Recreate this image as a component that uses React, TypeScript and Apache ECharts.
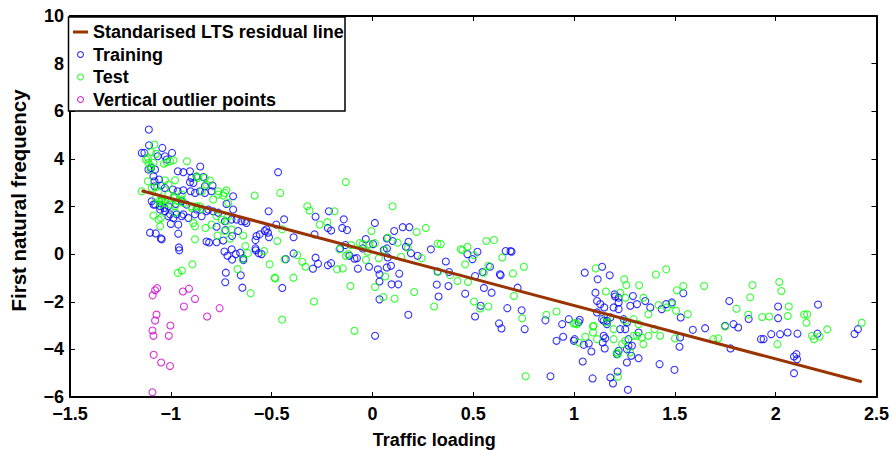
import React, { useEffect, useRef } from "react";
import * as echarts from "echarts";

const FONT = "'Liberation Sans', Arial, Helvetica, sans-serif";

const seriesNames = ["Standarised LTS residual line", "Training", "Test", "Vertical outlier points"];
const xAxisTitle = "Traffic loading";
const yAxisTitle = "First natural frequency";

const ltsLine: number[][] = [
  [-1.145, 2.66],
  [2.427, -5.36],
];

const outlierPoints: number[][] = [
  [-1.068, -1.43], [-1.078, -1.52], [-1.09, -1.73], [-0.94, -1.57], [-0.91, -1.45], [-0.88, -1.88],
  [-0.935, -2.2], [-0.758, -2.27], [-0.82, -2.62], [-1.071, -2.54], [-1.078, -2.79], [-1.002, -3.0],
  [-1.091, -3.21], [-1.086, -3.43], [-1.01, -3.43], [-1.085, -4.23], [-1.048, -4.55], [-1.004, -4.7],
  [-1.091, -5.8],
];

const trainingPoints: number[][] = [
  [-0.958, 0.16], [-0.81, 0.49], [-0.734, 0.11], [-0.719, -0.07], [-0.698, 0.2], [-0.678, 0], [-0.656, 0.06],
  [-0.696, -0.23], [-0.641, -0.18], [-0.64, -0.25], [-0.727, -0.78], [-0.73, -1.18], [-0.653, -0.89],
  [-0.645, -1.41], [-0.579, 0.16], [-0.564, 0.04], [-1.045, 0.62], [-0.58, 0.59],
  [-1.109, 5.23], [-1.108, 4.57], [-1.042, 4.46], [-1.144, 4.25], [-1.131, 4.25], [-0.994, 4.25], [-1.02, 3.97],
  [-0.854, 3.68], [-1.098, 3.62], [-1.078, 3.55], [-0.965, 3.48], [-0.938, 3.44], [-0.905, 3.48], [-0.872, 3.26],
  [-0.839, 3.24], [-1.081, 3.06], [-1.058, 3.13], [-0.905, 3.02], [-0.831, 2.85], [-0.793, 2.88], [-1.049, 2.88],
  [-1.029, 2.78], [-0.99, 2.71], [-0.966, 2.64], [-0.938, 2.68], [-0.856, 2.64], [-0.831, 2.57], [-0.798, 2.64],
  [-1.086, 2.08], [-1.053, 2.01], [-1.032, 1.94], [-1.012, 2.01], [-0.976, 2.11], [-0.946, 2.22], [-0.922, 2.08],
  [-0.814, 1.87], [-0.79, 1.8], [-0.765, 1.74], [-0.674, 1.45], [-0.65, 1.38], [-0.625, 1.31], [-1.012, 1.59],
  [-0.987, 1.52], [-0.946, 1.59], [-1.0, 1.27], [-0.963, 1.24], [-0.773, 1.15], [-0.729, 1.01], [-1.103, 0.9],
  [-1.075, 0.87], [-1.049, 0.66], [-0.963, 0.86], [-0.515, 1.8], [-0.575, 0.76], [-0.559, 0.83], [-0.534, 0.97],
  [-0.468, 3.44], [-0.477, 1.24], [-0.96, 0.28], [-0.58, 0.24],
  [-1.065, 4.11], [-1.029, 4.11], [-1.111, 3.55], [-1.086, 3.27], [-1.081, 2.85], [-0.897, 3.2], [-0.888, 2.99],
  [-0.902, 2.64], [-0.88, 2.57], [-1.095, 2.22], [-1.078, 2.08], [-1.053, 1.87], [-1.029, 1.8], [-1.004, 1.67],
  [-0.971, 1.67], [-0.938, 1.67], [-0.913, 1.52], [-0.88, 1.67], [-0.847, 1.59], [-0.823, 1.8], [-0.872, 1.87],
  [-0.518, 0.9], [-0.773, 0.5], [-0.74, 0.57], [-0.696, 0.76], [-0.666, 0.97], [-0.633, 1.38], [-0.732, 1.38],
  [-0.699, 1.45], [-0.691, 1.87], [-0.724, 2.11], [-0.691, 2.43], [-0.823, 0.53],
  [-0.438, 1.46], [-0.526, 1.04], [-0.216, 1.8], [-0.282, 1.57], [-0.221, 1.1], [-0.205, 0.99], [-0.142, 1.46],
  [-0.15, 1.1], [-0.126, 1.01], [0.012, 1.31], [0.108, 0.97], [0.15, 1.13], [0.183, 1.13], [-0.391, 0.71],
  [-0.513, 0.71], [-0.287, 0.83], [-0.55, 0], [-0.16, 0.24], [-0.134, 0.38], [-0.033, 0.63], [0.003, 0.42],
  [-0.048, 0.24], [-0.114, -0.07], [-0.089, -0.19], [-0.077, -0.17], [0.072, 0.66], [0.1, 0.55], [0.072, 0.24],
  [0.056, 0.17], [0.076, -0.14], [0.092, -0.49], [0.071, -0.56], [0.179, 0.52], [0.166, 0.31], [0.191, 0.04],
  [0.224, -0.07], [0.29, 0.2], [0.364, -0.31], [0.38, -0.75], [0.323, -0.73], [0.319, -1.28], [0.377, -1.34],
  [0.328, -1.78], [0.178, -2.55], [0.133, -0.82], [0.095, -1.27], [0.128, -1.27], [0.035, -1.9], [0.013, -3.43],
  [-0.072, -0.61], [-0.017, -0.53], [0.027, -0.64], [0.035, -0.85], [0.035, -1.15], [-0.295, -0.61], [-0.27, -0.4],
  [-0.282, -0.15], [-0.391, 0.03], [-0.43, -0.21], [-0.447, -1.42], [-0.221, -0.47], [-0.205, -0.38],
  [0.471, 0], [0.496, -0.21], [0.521, 0.1], [0.661, 0.13], [0.685, 0.13], [0.69, 0.1], [0.583, -0.53],
  [0.546, -0.75], [0.509, -0.92], [0.632, -0.85], [0.636, -0.89], [0.72, -1.41], [0.553, -1.42], [0.591, -1.62],
  [0.46, -1.66], [0.537, -2.17], [0.509, -2.62], [0.669, -2.27], [0.74, -2.36], [0.628, -2.91], [0.64, -3.12],
  [0.755, -3.15], [0.858, -2.78], [0.974, -2.73], [0.941, -2.94], [1.028, -2.76], [1.023, -2.86], [0.946, -3.47],
  [0.913, -3.64], [0.999, -3.64], [1.048, -3.81], [1.073, -3.75], [1.086, -4.09], [1.142, -3.71], [1.155, -3.53],
  [1.152, -3.96], [1.043, -4.51], [0.883, -5.13], [1.053, -0.78], [1.117, -1.06], [1.139, -0.53], [1.177, -0.89],
  [1.106, -1.62], [1.114, -1.97], [1.13, -2.1], [1.15, -2.24], [1.204, -1.78], [1.221, -2.03], [1.196, -2.24],
  [1.147, -2.8], [1.163, -2.94], [1.147, -3.43], [1.254, -3.15], [1.27, -3.85], [1.262, -4.55], [1.221, -4.06],
  [1.212, -4.2],
  [1.542, -1.64], [1.77, -1.97], [1.791, -2.94], [1.814, -3.08], [1.201, -1.69], [1.221, -1.83], [1.292, -1.76],
  [1.279, -2.17], [1.312, -2.1], [1.353, -1.97], [1.378, -2.24], [1.435, -2.31], [1.457, -2.1], [1.485, -2.03],
  [1.529, -2.66], [1.589, -3.18], [1.65, -3.11], [1.749, -3.01], [1.776, -3.96], [1.526, -3.5], [1.523, -3.89],
  [1.424, -4.62], [1.498, -4.86], [1.003, -3.57], [1.092, -5.22], [1.18, -5.18], [1.193, -5.43], [1.216, -4.93],
  [1.267, -5.7], [1.32, -4.37], [1.114, -2.45], [1.139, -2.73], [1.163, -2.8], [1.18, -2.66], [1.221, -2.31],
  [1.246, -2.73], [1.262, -2.87], [1.229, -3.15], [1.27, -3.57], [1.287, -3.85], [1.262, -3.99], [1.284, -4.27],
  [1.32, -3.29],
  [1.866, -2.72], [2.012, -2.2], [2.012, -2.69], [2.21, -2.12], [1.927, -3.57], [1.94, -3.57], [1.978, -3.36],
  [2.022, -3.36], [2.059, -3.29], [2.108, -3.34], [2.207, -3.34], [2.391, -3.35], [2.408, -3.15], [2.091, -4.3],
  [2.103, -4.2], [2.106, -4.41], [2.091, -5.0],
];

const testPoints: number[][] = [
  [-0.893, -0.43], [-0.945, -0.69], [-0.965, -0.79], [-0.63, 0.34], [-0.618, 0.04], [-0.669, -0.63],
  [-0.604, -1.64], [-0.643, -0.22], [-0.88, 0.62],
  [-1.081, 4.6], [-1.098, 4.29], [-1.073, 4.21], [-1.123, 3.97], [-1.111, 3.83], [-1.034, 3.8], [-1.02, 3.86],
  [-1.004, 3.9], [-0.92, 3.9], [-1.1, 3.55], [-0.867, 3.2], [-1.114, 3.06], [-1.029, 3.1], [-0.979, 3.1],
  [-0.806, 3.09], [-1.095, 2.78], [-1.07, 2.82], [-1.012, 2.92], [-1.144, 2.64], [-0.765, 2.64], [-0.724, 2.68],
  [-0.74, 2.46], [-0.946, 2.5], [-0.984, 2.43], [-1.075, 2.36], [-1.058, 2.22], [-1.045, 2.32], [-1.029, 2.15],
  [-0.897, 2.01], [-0.872, 2.01], [-0.847, 1.9], [-0.773, 1.59], [-0.748, 1.45], [-0.715, 1.59], [-0.724, 1.38],
  [-1.086, 1.62], [-1.049, 1.52], [-1.053, 1.17], [-0.888, 1.31], [-0.88, 1.17], [-0.828, 1.1], [-0.798, 1.24],
  [-0.641, 0.78], [-0.584, 2.46], [-0.707, 0.65], [-0.472, 0.55], [-0.457, 2.57],
  [-1.114, 4.04], [-1.098, 3.69], [-1.086, 3.83], [-0.987, 3.94], [-0.872, 3.27], [-0.831, 3.2], [-0.823, 2.92],
  [-0.847, 2.64], [-1.061, 2.64], [-1.045, 2.22], [-1.053, 2.08], [-1.029, 2.29], [-1.012, 2.5], [-1.004, 2.08],
  [-0.987, 2.36], [-0.979, 2.01], [-0.963, 2.22], [-0.946, 2.29], [-1.061, 1.45], [-0.979, 1.74], [-0.938, 2.15],
  [-0.897, 1.94], [-0.856, 2.01],
  [-0.448, 1.04], [-0.51, -0.43], [-0.436, -0.22], [-0.485, -0.99], [-0.768, 0.78], [-0.732, 0.97],
  [-0.699, 1.04], [-0.765, 2.5], [-0.732, 2.57], [-0.79, 2.29], [-0.715, 2.15],
  [-0.132, 3.03], [-0.323, 2.01], [-0.312, 1.83], [-0.188, 1.8], [-0.262, 1.24], [-0.224, 1.34], [0.1, 2.01],
  [-0.005, 0.97], [0.077, 0.69], [0.219, 0.93], [0.265, 1.1], [-0.537, 0.13], [-0.106, 0.38], [-0.064, 0.46],
  [-0.048, 0.42], [-0.015, 0.42], [0.012, 0.46], [-0.164, 0.2], [-0.132, -0.07], [-0.119, 0], [-0.032, -0.24],
  [-0.024, 0.1], [0.125, 0.48], [0.175, 0.27], [0.142, -0.11], [0.032, -0.17], [0.06, 0.17], [0.323, 0.44],
  [0.339, 0.42], [0.244, -0.17], [0.438, 0.2], [0.326, -0.73], [0.385, -0.88], [0.422, -1.13], [0.306, -2.2],
  [0.207, -1.59], [0.063, -0.94], [0.013, -1.38], [0.054, -1.8], [0.11, -1.87], [-0.175, -0.64], [-0.147, -0.6],
  [-0.332, -0.53], [-0.348, -0.32], [-0.373, -0.04], [-0.482, -1.02], [-0.392, -0.99], [-0.29, -1.99],
  [-0.448, -2.75], [-0.089, -3.22], [-0.109, -1.34],
  [0.471, 0.31], [0.447, 0.17], [0.504, -0.05], [0.46, -0.43], [0.565, 0.55], [0.603, 0.59], [0.644, -0.14],
  [0.575, -0.49], [0.553, -0.78], [0.474, -1.17], [0.751, -0.53], [0.697, -0.81], [0.702, -1.76], [0.504, -1.99],
  [0.534, -2.28], [0.575, -2.2], [0.743, -2.69], [0.863, -2.55], [0.913, -2.41], [0.999, -2.91], [1.015, -2.94],
  [1.094, -3.04], [1.056, -3.47], [1.094, -3.29], [1.114, -3.57], [0.76, -5.13], [1.107, -0.6], [1.158, -1.57],
  [1.249, -1.06], [1.259, -1.3], [1.229, -1.62], [1.254, -1.83], [1.163, -2.87], [1.196, -3.15], [1.254, -3.64],
  [1.295, -3.43], [1.212, -4.13], [1.278, -4.13], [1.312, -3.43],
  [1.457, -0.64], [1.406, -0.86], [1.323, -1.31], [1.542, -1.34], [1.51, -1.52], [1.645, -1.34], [1.806, -2.29],
  [1.691, -3.57], [1.715, -3.54], [1.749, -3.04], [1.344, -1.83], [1.369, -2.52], [1.419, -2.14], [1.46, -2.24],
  [1.485, -2.1], [1.564, -2.52], [1.506, -2.38], [1.501, -3.54], [1.427, -3.43], [1.399, -3.15], [1.369, -3.43],
  [1.344, -3.78], [1.007, -2.9], [1.023, -3.71], [1.097, -3.01], [1.218, -5.15], [1.218, -4.2], [1.238, -3.78],
  [1.196, -3.57], [1.163, -2.66], [1.254, -2.8], [1.295, -2.73], [1.336, -3.5], [1.32, -2.94],
  [1.885, -1.3], [2.018, -1.17], [2.028, -1.55], [1.874, -1.81], [1.864, -2.54], [1.933, -2.64], [1.968, -2.62],
  [2.065, -2.2], [2.06, -2.6], [2.141, -2.54], [2.156, -2.53], [2.153, -2.88], [2.256, -3.16], [2.18, -3.43],
  [2.19, -3.57], [2.218, -3.46], [2.427, -2.88], [2.009, -3.78],
];

const xMin = -1.5;
const xMax = 2.5;
const xStep = 0.5;
const yMin = -6;
const yMax = 10;
const yStep = 2;

const lineColor = "#993300";
const trainColor = "#0000ff";
const testColor = "#00ff00";
const outlierColor = "#cc00cc";

const fmt = (v: number) => (v < 0 ? "\u2212" + String(Math.abs(v)) : String(v));

export default function App() {
  const ref = useRef<HTMLDivElement>(null);
  useEffect(() => {
    document.body.style.margin = "0";
    const chart = echarts.init(ref.current!, null, { renderer: "svg" });
    const axisLine = { show: true, onZero: false, lineStyle: { color: "#000", width: 2 } };
    const tick = { show: true, inside: true, length: 5, lineStyle: { color: "#000", width: 1 } };
    const labelStyle = { fontFamily: FONT, fontWeight: "bold" as const, fontSize: 18, color: "#000" };
    const hollow = (color: string) => ({ color: "rgba(0,0,0,0)", borderColor: color, borderWidth: 1.1 });
    const scatter = (name: string, data: number[][], color: string) => ({
      name,
      type: "scatter",
      data,
      symbol: "circle",
      symbolSize: 7,
      itemStyle: hollow(color),
      z: 2,
    });
    chart.setOption({
      animation: false,
      backgroundColor: "#fff",
      grid: { left: 68, right: 15, top: 16, bottom: 56 },
      graphic: [
        {
          type: "rect",
          z: 5,
          shape: { x: 68.5, y: 17, width: 276.5, height: 94 },
          style: { fill: "#fff", stroke: "#000", lineWidth: 1.5 },
        },
      ],
      legend: {
        orient: "vertical",
        left: 68,
        top: 17,
        padding: [5, 2, 2, 5],
        itemGap: 2.5,
        itemWidth: 15,
        itemHeight: 6,
        selectedMode: false,
        z: 10,
        textStyle: { ...labelStyle, lineHeight: 20 },
        data: [
          { name: seriesNames[0], icon: "path://M0,0h15v3h-15z", itemStyle: { color: lineColor, borderWidth: 0 } },
          { name: seriesNames[1], icon: "circle", itemStyle: hollow(trainColor) },
          { name: seriesNames[2], icon: "circle", itemStyle: hollow(testColor) },
          { name: seriesNames[3], icon: "circle", itemStyle: hollow(outlierColor) },
        ],
      },
      xAxis: [
        {
          type: "value",
          min: xMin,
          max: xMax,
          interval: xStep,
          position: "bottom",
          name: xAxisTitle,
          nameLocation: "middle",
          nameGap: 34,
          nameTextStyle: { ...labelStyle, padding: [0, 78, 0, 0] },
          axisLine,
          axisTick: tick,
          axisLabel: { ...labelStyle, lineHeight: 14, margin: 10, formatter: fmt },
          splitLine: { show: false },
        },
        {
          type: "value",
          min: xMin,
          max: xMax,
          interval: xStep,
          position: "top",
          axisLine,
          axisTick: tick,
          axisLabel: { show: false },
          splitLine: { show: false },
        },
      ],
      yAxis: [
        {
          type: "value",
          min: yMin,
          max: yMax,
          interval: yStep,
          position: "left",
          name: yAxisTitle,
          nameLocation: "middle",
          nameGap: 41,
          nameTextStyle: { ...labelStyle, fontSize: 20.5, padding: [0, 0, 0, 12] },
          axisLine,
          axisTick: tick,
          axisLabel: { ...labelStyle, lineHeight: 14, margin: 6, formatter: fmt },
          splitLine: { show: false },
        },
        {
          type: "value",
          min: yMin,
          max: yMax,
          interval: yStep,
          position: "right",
          axisLine,
          axisTick: tick,
          axisLabel: { show: false },
          splitLine: { show: false },
        },
      ],
      series: [
        {
          name: seriesNames[0],
          type: "line",
          data: ltsLine,
          symbol: "none",
          lineStyle: { color: lineColor, width: 3 },
          itemStyle: { color: lineColor },
          z: 3,
        },
        scatter(seriesNames[1], trainingPoints, trainColor),
        scatter(seriesNames[2], testPoints, testColor),
        scatter(seriesNames[3], outlierPoints, outlierColor),
      ],
    });
    return () => chart.dispose();
  }, []);
  return <div ref={ref} style={{ width: 892, height: 454 }} />;
}
